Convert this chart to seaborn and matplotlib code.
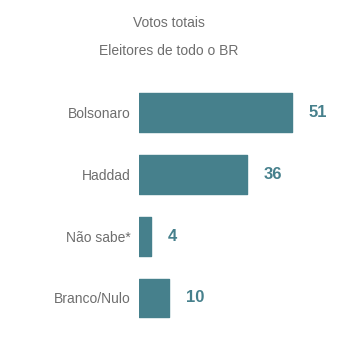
import matplotlib
matplotlib.use("Agg")
import matplotlib.pyplot as plt
import seaborn as sns
import pandas as pd

categories = ["Bolsonaro", "Haddad", "Não sabe*", "Branco/Nulo"]
values = [51, 36, 4, 10]
title = "Votos totais"
subtitle = "Eleitores de todo o BR"

bar_color = "#46808c"
text_color = "#6e6e6e"

sns.set_theme(style="white")
plt.rcParams["font.family"] = ["Liberation Sans", "DejaVu Sans"]

df = pd.DataFrame({"cat": categories, "val": values})

fig = plt.figure(figsize=(3.37, 3.43), dpi=100)
ax = fig.add_axes([139 / 337, 0.0411, 195 / 337, 0.721])
sns.barplot(data=df, x="val", y="cat", color=bar_color, width=0.63,
            saturation=1, ax=ax, edgecolor=bar_color, linewidth=1)
for p in ax.patches:
    p.set_joinstyle("round")

ax.set_xlim(0, 65)
ax.set_ylim(3.5, -0.5)
ax.set_xlabel("")
ax.set_ylabel("")
ax.set_xticks([])
for s in ax.spines.values():
    s.set_visible(False)
ax.tick_params(axis="y", length=0, pad=5.8, labelsize=10, labelcolor=text_color)

for i, v in enumerate(values):
    ax.annotate(str(v), (v, i), xytext=(12.2, 0), textcoords="offset points",
                ha="left", va="center", fontsize=12, fontweight="bold",
                color=bar_color)

fig.text(169 / 337, 1 - 23 / 343, title, ha="center", va="center",
         fontsize=10, color=text_color)
fig.text(169 / 337, 1 - 51 / 343, subtitle, ha="center", va="center",
         fontsize=10, color=text_color)

fig.savefig("out.png", dpi=100, facecolor="white")
